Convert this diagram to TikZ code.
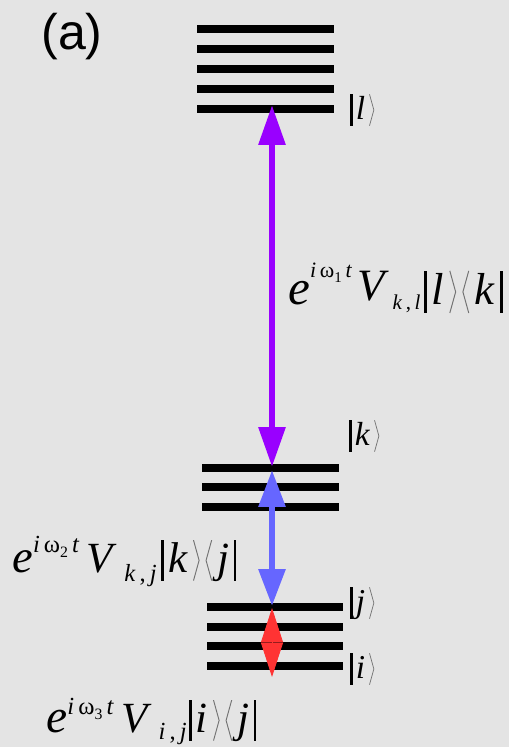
\documentclass[tikz,border=0pt]{standalone}
\usepackage{fontspec}
\newfontfamily\tms{Liberation Serif}
\newfontfamily\arl{Liberation Sans}
\usetikzlibrary{arrows.meta}
\definecolor{bg}{RGB}{228,228,228}
\definecolor{pur}{RGB}{153,0,255}
\definecolor{blu}{RGB}{102,102,255}
\definecolor{rd}{RGB}{255,51,51}
\newcommand\fs[1]{\fontsize{#1}{#1}\selectfont}
\newcommand\vbar{\tikz[baseline=0pt]\fill[black] (0pt,-0.2em) rectangle (0.065em,0.74em);}
\newcommand\rang{\tikz[baseline=0pt]\draw[line width=0.022em,black!55,line join=miter] (0pt,-0.2em) -- (0.13em,0.27em) -- (0pt,0.74em);}
\newcommand\lang{\tikz[baseline=0pt]\draw[line width=0.022em,black!55,line join=miter] (0.13em,-0.2em) -- (0pt,0.27em) -- (0.13em,0.74em);}
\newcommand\kt[1]{\vbar\hspace{0.1em}\textit{#1}\hspace{0.12em}\rang}
\newcommand\br[1]{\hspace{0.14em}\lang\hspace{0.12em}\textit{#1}\hspace{0.1em}\vbar}
\begin{document}
\begin{tikzpicture}[x=0.02cm,y=-0.02cm,
  lvl/.style={line width=4pt},
  txt/.style={inner sep=0pt,anchor=base west,font=\tms},
  parr/.style={pur,line width=3.6pt,{Triangle[length=22.7pt,width=14.7pt]}-{Triangle[length=22.7pt,width=14.7pt]}},
  barr/.style={blu,line width=3.6pt,{Triangle[length=21pt,width=14.7pt]}-{Triangle[length=21pt,width=14.7pt]}},
  rarr/.style={rd,line width=0.5pt,{Triangle[length=19.5pt,width=12.5pt]}-{Triangle[length=19.5pt,width=12.5pt]}}]
\fill[bg] (0,0) rectangle (509,747);
\useasboundingbox (0,0) rectangle (509,747);
% levels
\foreach \y in {29,49,69,89,109} \draw[lvl] (197,\y) -- (334,\y);
\foreach \y in {468,487,507} \draw[lvl] (202,\y) -- (339,\y);
\foreach \y in {607,627,646,666} \draw[lvl] (207,\y) -- (343,\y);
% arrow ends
\coordinate (lT) at (272,105);
\coordinate (kB) at (272,467);
\coordinate (kT) at (272,470);
\coordinate (jB) at (272,606);
\coordinate (jT) at (272,608);
\coordinate (iB) at (272,677);
\draw[parr] (kB) -- (lT);
\draw[barr] (jB) -- (kT);
\draw[rarr] (iB) -- (jT);
% labels
\node[inner sep=0pt,anchor=base west,font=\arl\fs{28.5}] (lab) at (41,50) {(a)};
\node[txt] (ketl) at (350,119) {\fs{19}\kt{l}};
\node[txt] (ketk) at (349,445) {\fs{19}\kt{k}};
\node[txt] (ketj) at (350,612) {\fs{19}\kt{j}};
\node[txt] (keti) at (350,678) {\fs{19}\kt{i}};
\node[txt] (f1) at (288,304) {\fs{25.5}{\fs{28}\textit{e}}\raisebox{15pt}{\fs{12.5}\textit{i}\,ω\raisebox{-3pt}{\fs{8.5}1}\,\textit{t}}\hspace{0.12em}\raisebox{2pt}{\textit{V}}\hspace{0.08em}\raisebox{-3pt}{\fs{12}\textit{k}\,,\,\textit{l}}\hspace{0.08em}\kt{l}\br{k}};
\node[txt] (f2) at (12,572) {\fs{24.5}{\fs{26.5}\textit{e}}\raisebox{11pt}{\fs{14}\textit{i}\,ω\raisebox{-3pt}{\fs{9}2}\,\textit{t}}\,\textit{V}\,\raisebox{-5.5pt}{\fs{14}\textit{k}\,,\,\textit{j}}\hspace{0.1em}\kt{k}\br{j}};
\node[txt] (f3) at (46,732) {\fs{24.5}{\fs{27}\textit{e}}\raisebox{10pt}{\fs{14}\textit{i}\,ω\raisebox{-3pt}{\fs{9}3}\,\textit{t}}\,\textit{V}\,\raisebox{-4.5pt}{\fs{14}\textit{i}\,,\,\textit{j}}\hspace{0.05em}\kt{i}\br{j}};
\end{tikzpicture}
\end{document}
